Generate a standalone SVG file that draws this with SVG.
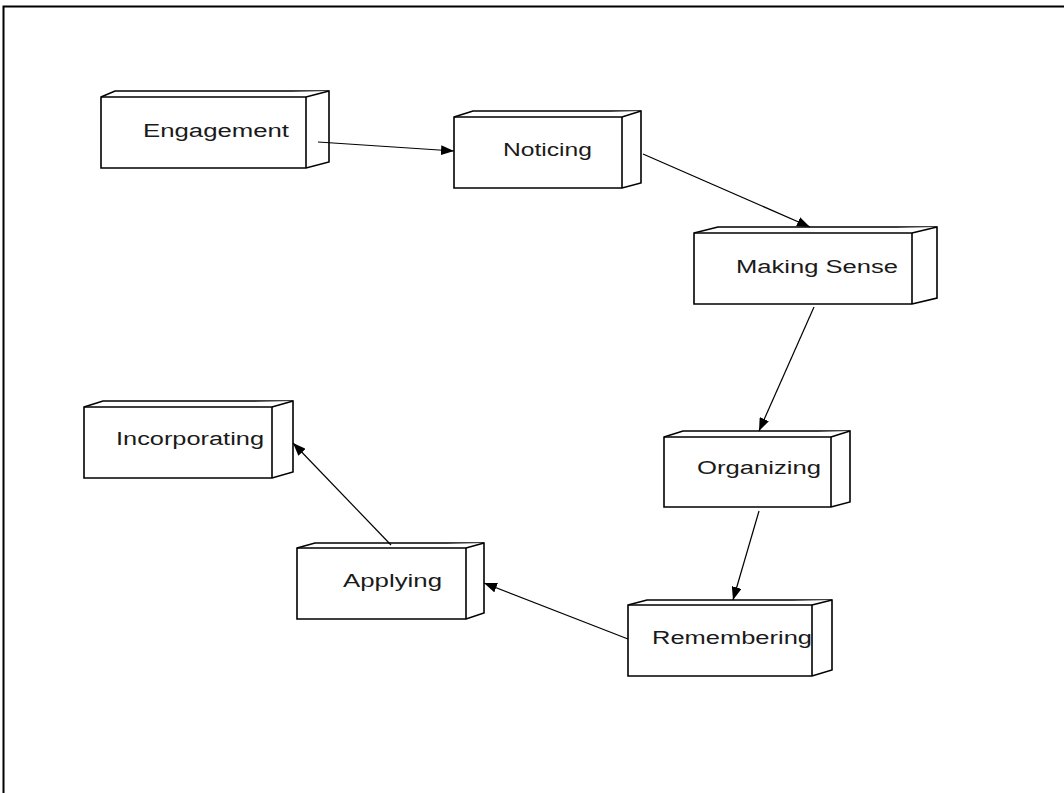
<svg xmlns="http://www.w3.org/2000/svg" width="1064" height="793" viewBox="0 0 1064 793">
<style>
.box{fill:#fff;stroke:#000;stroke-width:1.6;stroke-linejoin:miter}
.lbl{font-family:"Liberation Sans",Arial,sans-serif;font-size:18px;fill:#1a1a1a}
.conn line{stroke:#000;stroke-width:1.2}
</style>
<defs>
<marker id="ah" markerUnits="userSpaceOnUse" markerWidth="14" markerHeight="10" refX="13" refY="5" orient="auto">
<path d="M0,0 L13,5 L0,10 Z" fill="#000"/>
</marker>
</defs>
<rect width="1064" height="793" fill="#fff"/>
<path d="M3.5,793 V6.5 H1064" fill="none" stroke="#000" stroke-width="2"/>

<g id="engagement">
<polygon class="box" points="101,97 115,91 329,91 329,162 306,168 101,168"/>
<polyline class="box" fill="none" points="101,97 306,97 329,91"/>
<line class="box" x1="306" y1="97" x2="306" y2="168"/>
<text class="lbl" x="143" y="137" textLength="146" lengthAdjust="spacingAndGlyphs">Engagement</text>
</g>

<g id="noticing">
<polygon class="box" points="454,117 473,111 641,111 641,183 622,188 454,188"/>
<polyline class="box" fill="none" points="454,117 622,117 641,111"/>
<line class="box" x1="622" y1="117" x2="622" y2="188"/>
<text class="lbl" x="503" y="156" textLength="89" lengthAdjust="spacingAndGlyphs">Noticing</text>
</g>

<g id="making-sense">
<polygon class="box" points="694,233 718,227 937,227 937,298 912,304 694,304"/>
<polyline class="box" fill="none" points="694,233 912,233 937,227"/>
<line class="box" x1="912" y1="233" x2="912" y2="304"/>
<text class="lbl" x="736" y="273" textLength="162" lengthAdjust="spacingAndGlyphs">Making Sense</text>
</g>

<g id="organizing">
<polygon class="box" points="664,437 683,431 850,431 850,502 831,507 664,507"/>
<polyline class="box" fill="none" points="664,437 831,437 850,431"/>
<line class="box" x1="831" y1="437" x2="831" y2="507"/>
<text class="lbl" x="697" y="474" textLength="124" lengthAdjust="spacingAndGlyphs">Organizing</text>
</g>

<g id="remembering">
<polygon class="box" points="628,605 647,600 832,600 832,670 812,676 628,676"/>
<polyline class="box" fill="none" points="628,605 812,605 832,600"/>
<line class="box" x1="812" y1="605" x2="812" y2="676"/>
<text class="lbl" x="652" y="644" textLength="160" lengthAdjust="spacingAndGlyphs">Remembering</text>
</g>

<g id="applying">
<polygon class="box" points="297,548 315,543 484,543 484,613 466,619 297,619"/>
<polyline class="box" fill="none" points="297,548 466,548 484,543"/>
<line class="box" x1="466" y1="548" x2="466" y2="619"/>
<text class="lbl" x="343" y="587" textLength="99" lengthAdjust="spacingAndGlyphs">Applying</text>
</g>

<g id="incorporating">
<polygon class="box" points="84,407 103,401 293,401 293,472 272,478 84,478"/>
<polyline class="box" fill="none" points="84,407 272,407 293,401"/>
<line class="box" x1="272" y1="407" x2="272" y2="478"/>
<text class="lbl" x="116" y="445" textLength="148" lengthAdjust="spacingAndGlyphs">Incorporating</text>
</g>

<g id="connectors" class="conn">
<line x1="318" y1="142" x2="454" y2="151" marker-end="url(#ah)"/>
<line x1="643" y1="154" x2="810" y2="227" marker-end="url(#ah)"/>
<line x1="814" y1="307" x2="759" y2="431" marker-end="url(#ah)"/>
<line x1="759" y1="511" x2="733" y2="600" marker-end="url(#ah)"/>
<line x1="628" y1="639" x2="484" y2="583" marker-end="url(#ah)"/>
<line x1="391" y1="545" x2="293" y2="443" marker-end="url(#ah)"/>
</g>
</svg>
